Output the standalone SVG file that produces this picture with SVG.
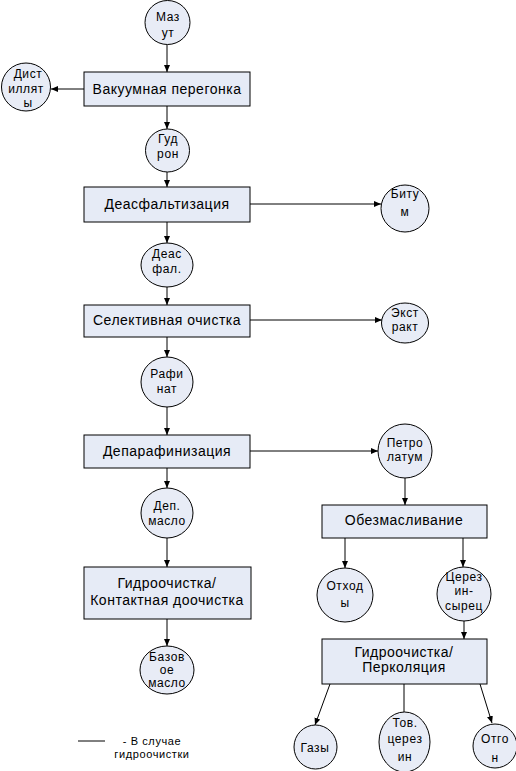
<svg xmlns="http://www.w3.org/2000/svg" width="516" height="771" viewBox="0 0 516 771">
<style>
.bg{fill:#ffffff}
.box{fill:#e6ebf6;stroke:#000;stroke-width:1}
.cir{fill:#e8ecf6;stroke:#000;stroke-width:1}
.bt{font-family:"Liberation Sans",Arial,sans-serif;font-size:14px;letter-spacing:0.5px;fill:#000;text-anchor:middle}
.ct{font-family:"Liberation Sans",Arial,sans-serif;font-size:12px;letter-spacing:0.6px;fill:#000;text-anchor:middle}
.ln{stroke:#000;stroke-width:1;fill:none}
.ar{stroke:#000;stroke-width:1;fill:none;marker-end:url(#arr)}
</style>
<defs>
<marker id="arr" markerWidth="8" markerHeight="8" refX="7" refY="3.5" orient="auto" markerUnits="userSpaceOnUse">
<path d="M0,0.5 L7,3.5 L0,6.5 Z" fill="#000"/>
</marker>
</defs>
<rect class="bg" x="0" y="0" width="516" height="771"/>
<g id="connectors">
<line class="ar" x1="167" y1="45" x2="167" y2="72"/>
<line class="ar" x1="84" y1="89" x2="51" y2="89"/>
<line class="ar" x1="167" y1="106" x2="167" y2="129"/>
<line class="ar" x1="167" y1="172" x2="167" y2="187"/>
<line class="ar" x1="250" y1="204" x2="381" y2="204"/>
<line class="ar" x1="167" y1="222" x2="167" y2="243"/>
<line class="ar" x1="167" y1="287" x2="167" y2="305"/>
<line class="ar" x1="250" y1="320" x2="382" y2="320"/>
<line class="ar" x1="167" y1="337" x2="167" y2="357"/>
<line class="ar" x1="167" y1="407" x2="167" y2="435"/>
<line class="ar" x1="250" y1="451" x2="378" y2="451"/>
<line class="ar" x1="167" y1="468" x2="167" y2="488"/>
<line class="ar" x1="167" y1="538" x2="167" y2="567"/>
<line class="ar" x1="167" y1="619" x2="167" y2="646"/>
<line class="ar" x1="405" y1="478" x2="405" y2="505"/>
<line class="ar" x1="345" y1="538" x2="345" y2="568"/>
<line class="ar" x1="463" y1="538" x2="463" y2="567"/>
<line class="ar" x1="464" y1="621" x2="464" y2="639"/>
<line class="ar" x1="330" y1="684" x2="315" y2="725"/>
<line class="ln" x1="404" y1="684" x2="404" y2="712"/>
<line class="ar" x1="480" y1="684" x2="492" y2="723"/>
</g>
<g id="n-mazut"><ellipse class="cir" cx="167.5" cy="22.5" rx="22.5" ry="22"/><text class="ct" x="168" y="21">Маз</text><text class="ct" x="168" y="37">ут</text></g>
<g id="n-vacuum"><rect class="box" x="84" y="72" width="166" height="34"/><text class="bt" x="167" y="94">Вакуумная перегонка</text></g>
<g id="n-distill"><ellipse class="cir" cx="26" cy="87" rx="24.5" ry="24"/><text class="ct" x="28" y="78">Дист</text><text class="ct" x="26" y="93">иллят</text><text class="ct" x="28" y="107">ы</text></g>
<g id="n-gudron"><ellipse class="cir" cx="167.5" cy="150.5" rx="22" ry="21.5"/><text class="ct" x="168" y="143">Гуд</text><text class="ct" x="168" y="158">рон</text></g>
<g id="n-deasf"><rect class="box" x="84" y="187" width="166" height="35"/><text class="bt" x="167" y="209">Деасфальтизация</text></g>
<g id="n-bitum"><ellipse class="cir" cx="405" cy="208.5" rx="24" ry="23.5"/><text class="ct" x="405" y="198">Биту</text><text class="ct" x="405" y="216">м</text></g>
<g id="n-deasfal"><ellipse class="cir" cx="167" cy="265" rx="26" ry="22"/><text class="ct" x="167" y="258">Деас</text><text class="ct" x="167" y="273">фал.</text></g>
<g id="n-select"><rect class="box" x="84" y="305" width="166" height="32"/><text class="bt" x="167" y="325">Селективная очистка</text></g>
<g id="n-extract"><ellipse class="cir" cx="405" cy="323" rx="23.5" ry="20"/><text class="ct" x="405" y="317">Экст</text><text class="ct" x="405" y="331">ракт</text></g>
<g id="n-rafinat"><ellipse class="cir" cx="167" cy="382" rx="26" ry="25"/><text class="ct" x="167" y="378">Рафи</text><text class="ct" x="167" y="393">нат</text></g>
<g id="n-deparaf"><rect class="box" x="84" y="435" width="166" height="33"/><text class="bt" x="167" y="456">Депарафинизация</text></g>
<g id="n-petrolatum"><ellipse class="cir" cx="405" cy="451" rx="27" ry="27"/><text class="ct" x="405" y="447">Петро</text><text class="ct" x="405" y="461">латум</text></g>
<g id="n-depmaslo"><ellipse class="cir" cx="167" cy="513" rx="26" ry="25"/><text class="ct" x="167" y="510">Деп.</text><text class="ct" x="167" y="525">масло</text></g>
<g id="n-obezmasl"><rect class="box" x="322" y="505" width="165" height="33"/><text class="bt" x="404" y="525">Обезмасливание</text></g>
<g id="n-gidro1"><rect class="box" x="84" y="567" width="167" height="52"/><text class="bt" x="167" y="588">Гидроочистка/</text><text class="bt" x="167" y="605">Контактная доочистка</text></g>
<g id="n-bazovoe"><ellipse class="cir" cx="167" cy="670" rx="27" ry="24"/><text class="ct" x="167" y="661">Базов</text><text class="ct" x="167" y="674">ое</text><text class="ct" x="167" y="687">масло</text></g>
<g id="n-othody"><ellipse class="cir" cx="345" cy="595" rx="28" ry="27"/><text class="ct" x="345" y="590">Отход</text><text class="ct" x="345" y="607">ы</text></g>
<g id="n-cerezin"><ellipse class="cir" cx="464" cy="594" rx="27" ry="27"/><text class="ct" x="464" y="581">Церез</text><text class="ct" x="464" y="595">ин-</text><text class="ct" x="464" y="610">сырец</text></g>
<g id="n-gidro2"><rect class="box" x="322" y="639" width="165" height="45"/><text class="bt" x="404" y="657">Гидроочистка/</text><text class="bt" x="404" y="672">Перколяция</text></g>
<g id="n-gazy"><ellipse class="cir" cx="315.5" cy="747" rx="21.5" ry="22"/><text class="ct" x="315" y="752">Газы</text></g>
<g id="n-tovcerezin"><ellipse class="cir" cx="404.5" cy="742" rx="25.5" ry="30"/><text class="ct" x="405" y="727">Тов.</text><text class="ct" x="405" y="743">церез</text><text class="ct" x="405" y="761">ин</text></g>
<g id="n-otgon"><ellipse class="cir" cx="495" cy="746" rx="22" ry="22"/><text class="ct" x="495" y="743">Отго</text><text class="ct" x="495" y="762">н</text></g>
<g id="legend"><line class="ln" x1="78" y1="741" x2="105" y2="741"/><text class="ct" x="152" y="745" style="font-size:11px">- В случае</text><text class="ct" x="152" y="758" style="font-size:11px">гидроочистки</text></g>
</svg>
